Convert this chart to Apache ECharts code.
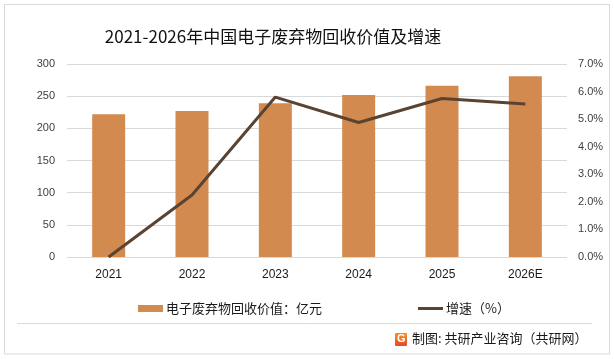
<!DOCTYPE html>
<html>
<head>
<meta charset="utf-8">
<script src="https://cdn.jsdelivr.net/npm/echarts@6/dist/echarts.min.js"></script>
<style>
html,body{margin:0;padding:0;background:#fff;}
#chart{width:614px;height:359px;}
</style>
</head>
<body>
<div id="chart"></div>
<script>
const titleText = '2021-2026年中国电子废弃物回收价值及增速';
const categories = ['2021', '2022', '2023', '2024', '2025', '2026E'];
const valueSeriesName = '电子废弃物回收价值：亿元';
const values = [222, 227, 239, 252, 266, 281];
const growthSeriesName = '增速（%）';
const growth = [0.0, 2.25, 5.8, 4.88, 5.75, 5.55];
const leftTicks = [0, 50, 100, 150, 200, 250, 300];
const rightTicks = [0, 1, 2, 3, 4, 5, 6, 7];
const footerText = '制图: 共研产业咨询（共研网）';

const CJK = '"Noto Sans CJK SC", "Liberation Sans", sans-serif';
const NUM = '"Liberation Sans", "Noto Sans CJK SC", sans-serif';

const chart = echarts.init(document.getElementById('chart'));
chart.setOption({
  animation: false,
  backgroundColor: '#ffffff',
  title: {
    text: titleText,
    left: 268, top: 23, textAlign: 'center',
    textStyle: {fontFamily: CJK, fontSize: 17, fontWeight: 'normal', color: '#111111'}
  },
  grid: {left: 67, right: 47, top: 64, bottom: 102, containLabel: false},
  legend: {
    top: 297, left: 133, itemGap: 96,
    itemWidth: 25, itemHeight: 7,
    textStyle: {fontFamily: CJK, fontSize: 13, color: '#1a1a1a', padding: [0, 0, 0, -2]},
    data: [
      {name: valueSeriesName, icon: 'rect'},
      {name: growthSeriesName, icon: 'path://M0,0 L25,0 L25,3 L0,3 Z', itemStyle: {color: '#5b4331'}}
    ]
  },
  xAxis: {
    type: 'category', data: categories,
    axisLine: {show: false}, axisTick: {show: false},
    axisLabel: {fontFamily: NUM, fontSize: 12, color: '#1a1a1a', margin: 12}
  },
  yAxis: [
    {
      type: 'value', min: leftTicks[0], max: leftTicks[leftTicks.length - 1], interval: 50,
      axisLine: {show: false}, axisTick: {show: false},
      splitLine: {lineStyle: {color: '#d9d9d9', width: 1}},
      axisLabel: {fontFamily: NUM, fontSize: 11, color: '#404040', margin: 12}
    },
    {
      type: 'value', min: rightTicks[0], max: rightTicks[rightTicks.length - 1], interval: 1,
      axisLine: {show: false}, axisTick: {show: false},
      splitLine: {show: false},
      axisLabel: {fontFamily: NUM, fontSize: 11, color: '#404040', margin: 11,
        formatter: v => v.toFixed(1) + '%'}
    }
  ],
  series: [
    {
      name: valueSeriesName, type: 'bar', data: values, barWidth: 33,
      itemStyle: {color: '#d38a4f'}
    },
    {
      name: growthSeriesName, type: 'line', yAxisIndex: 1, data: growth,
      symbol: 'none', lineStyle: {color: '#5b4331', width: 3},
      itemStyle: {color: '#5b4331'}
    }
  ],
  graphic: [
    {type: 'rect', shape: {x: 4.5, y: 4.5, width: 605, height: 349.5},
      style: {fill: 'none', stroke: '#d9d9d9', lineWidth: 1}, silent: true},
    {type: 'line', shape: {x1: 17, y1: 323.5, x2: 592, y2: 323.5},
      style: {stroke: '#d9d9d9', lineWidth: 1}, silent: true},
    {type: 'rect', shape: {x: 395, y: 333, width: 12, height: 13, r: 1},
      style: {fill: {type: 'linear', x: 0, y: 0, x2: 0, y2: 1,
        colorStops: [{offset: 0, color: '#f7941d'}, {offset: 1, color: '#e8452c'}]}}},
    {type: 'text', left: 397, top: 333,
      style: {text: 'G', fill: '#fff', font: 'bold 11px "Liberation Sans"'}},
    {type: 'text', left: 412, top: 332,
      style: {text: footerText, fill: '#1a1a1a', font: '13px "Noto Sans CJK SC"'}}
  ]
});
</script>
</body>
</html>
